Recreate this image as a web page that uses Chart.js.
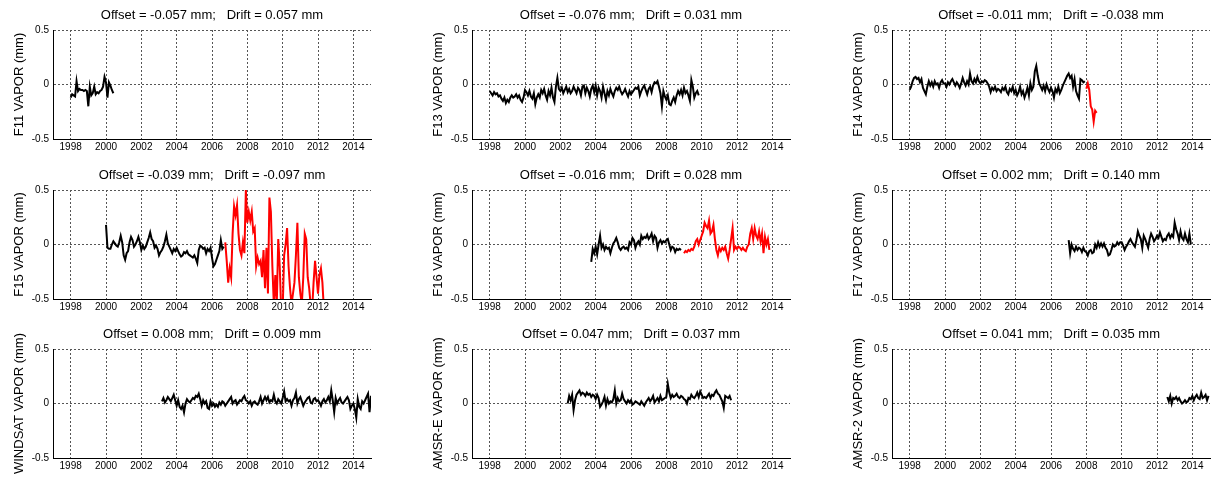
<!DOCTYPE html>
<html lang="en">
<head>
<meta charset="UTF-8">
<title>VAPOR offset and drift</title>
<script src="https://cdn.jsdelivr.net/npm/chart.js"></script>
<style>
  body { margin: 0; background: #fff; }
  #wrap { position: relative; width: 1220px; height: 481px; overflow: hidden; }
  #wrap canvas { position: absolute; }
</style>
</head>
<body>
<div id="wrap"></div>
<script>
// axis ticks
const xTicks = [1998, 2000, 2002, 2004, 2006, 2008, 2010, 2012, 2014];
const yTicks = [-0.5, 0, 0.5];

// monthly values, each series starts at the given decimal year
const f11Start = 1998;
const f11 = [-0.12,-0.09,-0.10,-0.11,0.03,-0.06,-0.04,-0.05,-0.05,-0.06,-0.05,-0.06,
  -0.20,-0.02,-0.10,-0.08,-0.02,-0.09,-0.07,-0.08,-0.06,-0.05,-0.02,0.07,
  0.02,-0.12,0.02,-0.01,-0.05,-0.08];

const f13Start = 1998;
const f13 = [-0.06,-0.08,-0.10,-0.07,-0.09,-0.08,-0.11,-0.10,-0.13,-0.15,-0.12,-0.17,
  -0.14,-0.16,-0.12,-0.10,-0.12,-0.11,-0.09,-0.12,-0.10,-0.14,-0.16,-0.12,
  -0.05,-0.07,-0.10,-0.06,-0.11,-0.13,-0.08,-0.18,-0.12,-0.09,-0.12,-0.05,
  -0.08,-0.04,-0.10,-0.14,-0.06,-0.10,-0.03,-0.12,-0.16,-0.02,0.06,-0.04,
  -0.06,-0.03,-0.08,-0.05,-0.02,-0.07,-0.04,-0.08,-0.06,-0.02,-0.05,-0.08,
  -0.03,-0.05,-0.10,-0.02,-0.01,-0.08,-0.03,-0.06,-0.11,-0.04,-0.01,-0.07,
  -0.01,-0.10,-0.03,-0.06,-0.12,-0.02,-0.08,-0.14,-0.06,-0.10,-0.04,-0.08,
  -0.11,-0.06,-0.03,-0.05,-0.02,-0.06,-0.09,-0.07,-0.04,-0.08,-0.11,-0.06,
  -0.09,-0.07,-0.05,-0.03,-0.04,-0.02,-0.10,-0.06,-0.03,-0.01,-0.05,-0.09,
  -0.04,-0.02,-0.07,-0.01,0.02,0.01,0.03,-0.02,-0.08,-0.20,-0.06,-0.11,
  -0.14,-0.10,-0.18,-0.19,-0.15,-0.12,-0.16,-0.10,-0.06,-0.09,-0.05,-0.10,
  -0.03,-0.08,-0.06,-0.10,-0.15,0.04,-0.02,-0.12,-0.08,-0.06,-0.10];

const f14Start = 1998;
const f14 = [-0.05,-0.02,0.03,0.06,0.07,0.05,0.06,0.02,0.05,-0.03,-0.06,-0.09,
  -0.02,0.03,-0.01,0.02,-0.02,0.03,0.00,0.01,-0.03,0.02,0.04,0.01,
  0.01,-0.02,0.02,0.00,0.03,0.05,0.02,-0.01,0.02,0.00,-0.03,0.01,
  0.06,0.02,-0.01,0.03,0.00,0.10,0.03,0.01,0.05,0.02,0.07,0.03,
  0.01,0.03,0.02,0.04,0.03,0.01,-0.02,-0.07,-0.03,-0.05,-0.02,-0.06,
  -0.04,-0.05,-0.07,-0.03,-0.05,-0.02,-0.07,-0.09,-0.04,-0.06,-0.02,-0.08,
  -0.05,-0.10,-0.07,-0.02,-0.09,-0.06,-0.12,-0.08,-0.03,-0.10,0.01,-0.05,
  -0.02,0.12,0.17,0.08,0.01,-0.02,-0.05,-0.01,-0.06,0.00,-0.04,-0.07,
  -0.03,-0.06,-0.12,-0.04,-0.07,-0.02,-0.08,-0.05,-0.01,0.02,0.05,0.08,
  0.10,0.06,0.08,-0.02,0.05,-0.06,-0.10,-0.13,0.05,0.04,0.02,0.03];
const f14bStart = 2008;
const f14b = [-0.04,0.01,-0.05,-0.20,-0.23,-0.34,-0.24,-0.26];

const f15Start = 2000;
const f15 = [0.18,-0.03,-0.04,-0.04,0.00,0.03,0.01,-0.01,-0.02,0.02,0.08,0.02,
  -0.10,-0.14,-0.08,-0.06,0.02,0.07,0.04,-0.02,0.00,0.03,0.07,0.02,
  -0.05,-0.01,-0.04,-0.02,0.02,0.06,0.11,0.05,0.03,-0.03,-0.01,-0.04,
  -0.10,-0.07,-0.05,-0.02,0.03,0.09,0.01,-0.02,-0.05,-0.08,-0.04,-0.06,
  -0.03,-0.06,-0.09,-0.11,-0.10,-0.07,-0.08,-0.06,-0.09,-0.10,-0.11,-0.12,
  -0.10,-0.13,-0.17,-0.05,-0.01,-0.02,-0.04,-0.03,-0.08,-0.04,-0.06,-0.03,
  -0.12,-0.20,-0.18,-0.14,-0.10,-0.06,0.04,-0.04,-0.02];
const f15bStart = 2006.75;
const f15b = [0.02,-0.15,-0.35,-0.22,-0.30,0.10,0.35,0.27,0.36,0.10,-0.05,-0.10,
  0.02,-0.08,0.50,0.20,0.30,0.22,0.30,0.12,0.15,-0.20,-0.12,-0.18,
  -0.15,-0.30,-0.05,-0.40,-0.03,-0.45,0.43,0.30,-0.20,-0.55,-0.28,-0.55,
  0.05,-0.20,-0.60,-0.60,-0.10,0.00,0.15,-0.20,-0.40,-0.55,-0.45,-0.35,
  -0.10,0.20,-0.30,-0.45,-0.55,-0.30,0.10,0.05,-0.30,-0.40,-0.55,-0.60,
  -0.35,-0.15,-0.30,-0.45,-0.28,-0.22,-0.35,-0.60];

const f16Start = 2003.75;
const f16 = [-0.16,-0.04,-0.08,
  -0.02,-0.09,0.00,0.08,-0.03,0.00,-0.05,-0.02,-0.04,-0.03,-0.08,-0.03,
  0.01,0.03,0.06,0.02,-0.03,-0.05,-0.03,-0.02,-0.04,-0.03,-0.05,0.02,
  0.00,0.06,0.04,-0.03,0.01,0.03,0.00,0.08,0.05,0.07,0.06,0.09,
  0.05,0.07,0.10,0.03,0.08,0.06,-0.03,0.02,0.04,0.01,0.03,0.02,
  0.04,0.05,0.00,-0.05,-0.02,-0.03,-0.07,-0.04,-0.05,-0.04,-0.05];
const f16bStart = 2009;
const f16b = [-0.08,-0.06,-0.07,-0.05,-0.06,-0.04,-0.05,-0.02,0.03,0.05,0.00,0.04,
  0.08,0.12,0.20,0.17,0.15,0.22,0.10,0.12,0.18,0.05,-0.05,-0.10,
  -0.03,-0.06,-0.03,-0.05,-0.02,-0.08,-0.13,-0.05,0.05,0.15,-0.05,-0.02,
  -0.04,-0.02,-0.03,-0.05,-0.03,-0.05,-0.06,-0.02,0.00,0.10,0.15,0.05,
  0.15,0.08,0.05,0.12,0.03,0.10,-0.08,0.07,0.00,0.05,-0.05];

const f17Start = 2007;
const f17 = [0.04,-0.08,0.00,-0.04,-0.06,-0.02,-0.05,-0.03,-0.04,-0.07,-0.03,-0.06,
  -0.07,-0.10,-0.06,-0.05,-0.08,-0.07,0.00,-0.03,0.02,-0.02,0.01,-0.02,
  0.01,-0.03,-0.05,-0.10,-0.09,-0.05,0.00,-0.02,-0.01,0.02,0.00,0.02,
  0.02,-0.01,-0.05,-0.02,0.00,0.03,0.05,0.02,0.00,-0.02,0.04,0.12,
  0.08,0.05,-0.03,0.08,0.05,0.01,-0.03,0.05,0.10,0.07,0.03,0.05,
  0.08,0.06,0.11,0.07,0.03,0.05,0.04,0.08,0.10,0.06,0.09,0.07,
  0.20,0.14,0.10,0.04,0.12,0.06,0.04,0.10,0.05,0.02,0.10,0.00];

const windsatStart = 2003 + 2 / 12;
const windsat = [0.02,0.05,0.01,0.03,0.06,0.04,0.02,0.05,0.08,0.03,
  -0.02,0.03,-0.03,-0.05,-0.02,-0.08,0.00,0.04,0.02,0.01,0.03,0.05,
  0.04,0.07,0.06,0.09,0.04,-0.02,0.03,0.00,0.02,-0.04,-0.05,0.02,
  -0.02,0.00,-0.03,-0.01,-0.03,0.01,-0.01,0.02,0.01,-0.02,0.00,0.02,
  0.04,0.06,0.00,0.02,0.03,-0.01,0.01,0.03,0.02,0.05,0.07,0.03,
  0.02,0.00,0.02,-0.02,0.01,0.02,0.00,-0.01,0.02,0.06,0.00,0.03,
  0.06,0.03,0.06,0.01,0.03,0.02,0.08,0.02,0.00,0.04,0.02,0.00,
  0.05,0.11,0.02,0.04,0.02,0.03,-0.02,0.03,0.05,0.10,0.00,0.04,
  0.06,0.02,-0.02,0.01,0.03,0.05,0.06,0.01,0.00,0.04,0.05,0.02,
  0.03,0.01,-0.02,0.02,0.04,0.01,0.03,0.06,0.02,0.12,0.03,-0.08,
  0.05,0.00,0.03,0.05,0.01,0.00,0.02,0.04,0.06,0.03,-0.05,-0.02,
  0.00,-0.05,-0.13,0.04,-0.03,-0.05,0.02,0.00,0.03,0.06,0.09,-0.08,
  0.07];

const amsreStart = 2002 + 5 / 12;
const amsre = [0.00,0.07,0.03,0.08,-0.06,0.03,0.08,
  0.10,0.12,0.08,0.10,0.09,0.07,0.10,0.08,0.09,0.06,0.08,0.07,
  0.04,0.08,0.05,-0.03,-0.01,0.02,0.06,-0.02,0.04,0.00,0.02,0.01,
  0.04,0.12,0.00,0.05,0.02,0.03,0.09,0.04,0.02,0.00,0.03,0.01,
  0.03,-0.01,0.00,0.02,0.01,0.00,-0.01,0.02,0.00,-0.02,0.01,0.03,
  0.05,0.02,0.04,0.07,0.01,0.03,0.05,0.02,0.07,0.03,0.04,0.05,
  0.06,0.18,0.10,0.05,0.08,0.06,0.07,0.09,0.06,0.05,0.07,0.06,
  0.04,0.03,0.00,0.05,0.04,0.08,0.06,0.05,0.07,0.10,0.06,0.11,
  0.08,0.05,0.06,0.05,0.07,0.09,0.05,0.08,0.07,0.10,0.12,0.09,
  0.08,0.05,0.02,-0.04,0.07,0.06,0.05,0.07,0.03];

const amsr2Start = 2012 + 7 / 12;
const amsr2 = [0.06,0.02,0.07,0.00,0.05,
  0.04,0.06,0.03,0.05,0.02,0.00,0.01,0.03,0.01,0.02,0.05,0.04,
  0.07,0.03,0.06,0.08,0.05,0.04,0.10,0.05,0.06,0.08,0.03,0.07];

const names = ['F11', 'F13', 'F14', 'F15', 'F16', 'F17', 'WINDSAT', 'AMSR-E', 'AMSR-2'];
const offsets = ['-0.057', '-0.076', '-0.011', '-0.039', '-0.016', '0.002', '0.008', '0.047', '0.041'];
const drifts = ['0.057', '0.031', '-0.038', '-0.097', '0.028', '0.140', '0.009', '0.037', '0.035'];

const BLACK = '#000000';
const RED = '#ff0000';
const series = [
  [[f11Start, f11, BLACK]],
  [[f13Start, f13, BLACK]],
  [[f14Start, f14, BLACK], [f14bStart, f14b, RED]],
  [[f15Start, f15, BLACK], [f15bStart, f15b, RED]],
  [[f16Start, f16, BLACK], [f16bStart, f16b, RED]],
  [[f17Start, f17, BLACK]],
  [[windsatStart, windsat, BLACK]],
  [[amsreStart, amsre, BLACK]],
  [[amsr2Start, amsr2, BLACK]]
];

// plot area placement
const plotLeft = [53, 472, 892];
const plotTop = [30, 190, 349];
const AXIS_W = 53, TITLE_H = 30, PLOT_W = 318, PLOT_H = 109, XAXIS_H = 21, RIGHT_PAD = 10;
const FONT = 'Arial, "Liberation Sans", Helvetica, sans-serif';

const wrap = document.getElementById('wrap');

names.forEach((name, i) => {
  const col = i % 3, row = Math.floor(i / 3);
  const cv = document.createElement('canvas');
  cv.width = AXIS_W + PLOT_W + RIGHT_PAD;
  cv.height = TITLE_H + PLOT_H + XAXIS_H;
  cv.style.left = (plotLeft[col] - AXIS_W) + 'px';
  cv.style.top = (plotTop[row] - TITLE_H) + 'px';
  wrap.appendChild(cv);

  const datasets = series[i].map(([start, vals, color]) => ({
    data: vals.map((v, k) => ({ x: start + k / 12, y: v })),
    borderColor: color,
    borderWidth: 2,
    pointRadius: 0,
    tension: 0,
    fill: false
  }));

  new Chart(cv, {
    type: 'line',
    data: { datasets },
    options: {
      responsive: false,
      animation: false,
      layout: { padding: { top: 0, left: 0, bottom: 0, right: RIGHT_PAD } },
      plugins: {
        legend: { display: false },
        tooltip: { enabled: false },
        title: {
          display: true,
          fullSize: false,
          text: 'Offset = ' + offsets[i] + ' mm;   Drift = ' + drifts[i] + ' mm',
          color: '#000',
          font: { family: FONT, size: 13, weight: 'normal', lineHeight: 1.2 },
          padding: { top: 8, bottom: 6.4 }
        }
      },
      scales: {
        x: {
          type: 'linear',
          min: 1997,
          max: 2015,
          afterBuildTicks: sc => { sc.ticks = xTicks.map(v => ({ value: v })); },
          afterFit: sc => { sc.height = XAXIS_H; },
          ticks: {
            color: '#000',
            font: { family: FONT, size: 10 },
            padding: 2,
            maxRotation: 0,
            autoSkip: false,
            callback: v => String(v)
          },
          grid: { color: '#555', lineWidth: 1, drawTicks: false },
          border: { display: true, color: '#000', width: 1, dash: [2, 2] }
        },
        y: {
          min: -0.5,
          max: 0.5,
          afterBuildTicks: sc => { sc.ticks = yTicks.map(v => ({ value: v })); },
          afterFit: sc => { sc.width = AXIS_W; },
          ticks: {
            color: '#000',
            font: { family: FONT, size: 10 },
            padding: 4,
            callback: v => String(v)
          },
          grid: { color: '#555', lineWidth: 1, drawTicks: false },
          border: { display: true, color: '#000', width: 1, dash: [2, 2] },
          title: {
            display: true,
            text: name + ' VAPOR (mm)',
            color: '#000',
            font: { family: FONT, size: 13, lineHeight: 1.2 },
            padding: { top: 12, bottom: 0 }
          }
        }
      }
    }
  });
});
</script>
</body>
</html>
